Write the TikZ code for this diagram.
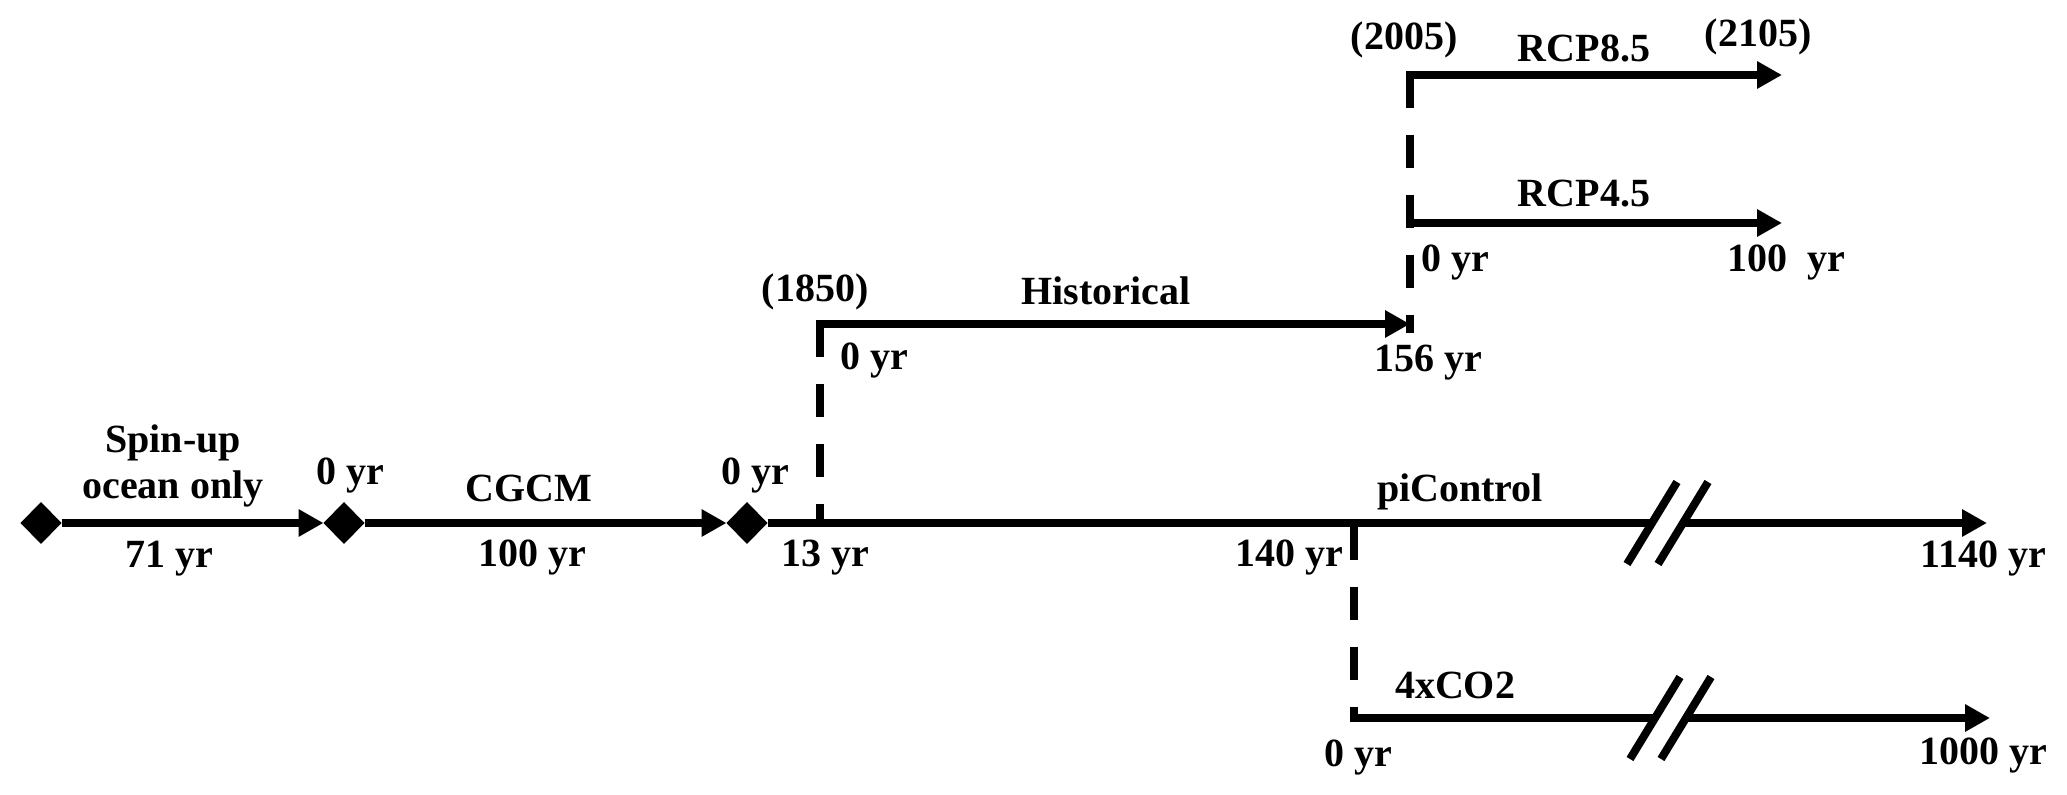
\documentclass[tikz,border=0pt]{standalone}
\usepackage{fontspec}
\setmainfont{Liberation Serif}
\usetikzlibrary{arrows.meta}
\begin{document}
\begin{tikzpicture}[x=0.5pt,y=-0.5pt,
  line width=4pt,
  arr/.style={-{Triangle[length=12.5pt,width=13pt]}},
  dsh/.style={dash pattern=on 16.5pt off 13.5pt},
  lbl/.style={font=\fontsize{20}{21.5}\selectfont\bfseries,inner sep=0pt,anchor=base}
]
\useasboundingbox (0,0) rectangle (2067,795);
% diamonds (centres) and their left/right vertices
\coordinate (d1) at (41,523);
\coordinate (d2) at (344,523);
\coordinate (d3) at (747,523);
\foreach \d in {d1,d2,d3}{
  \fill ([xshift=-10.25pt]\d) -- ([yshift=10.5pt]\d) -- ([xshift=10.25pt]\d) -- ([yshift=-10.5pt]\d) -- cycle;
}
\coordinate (d1e) at (61.5,523);
\coordinate (d2w) at (323.5,523);
\coordinate (d2e) at (364.5,523);
\coordinate (d3w) at (726.5,523);
\coordinate (d3e) at (767.5,523);
% coordinates
\coordinate (h0) at (820,523);
\coordinate (hc) at (820,324);
\coordinate (hend) at (1410,324);
\coordinate (r8) at (1410,75);
\coordinate (r4) at (1410,223);
\coordinate (r0) at (1410,333);
\coordinate (r8end) at (1782,75);
\coordinate (r4end) at (1782,223);
\coordinate (c0) at (1354,527);
\coordinate (cc) at (1354,720);
\coordinate (ch) at (1354,718);
\coordinate (cend) at (1990,718);
\coordinate (pend) at (1987,523);
\coordinate (b1) at (1652,523);
\coordinate (b2) at (1683,523);
\coordinate (b3) at (1655,718);
\coordinate (b4) at (1686,718);
% spin-up and CGCM
\draw[arr] (d1e) -- (d2w);
\draw[arr] (d2e) -- (d3w);
% piControl
\draw (d3e) -- (b1);
\draw[arr] (b2) -- (pend);
\draw ([shift={(25,-41)}]b1) -- ([shift={(-25,41)}]b1);
\draw ([shift={(25,-41)}]b2) -- ([shift={(-25,41)}]b2);
% historical
\draw[dsh] (hc) -- (h0);
\draw[arr] ([xshift=-2pt]hc) -- (hend);
% RCP
\draw[dsh] (r8) -- (r0);
\draw[arr] ([xshift=-2pt]r8) -- (r8end);
\draw[arr] ([xshift=-2pt]r4) -- (r4end);
% 4xCO2
\draw[dsh] (c0) -- (cc);
\draw ([xshift=-2pt]ch) -- (b3);
\draw[arr] (b4) -- (cend);
\draw ([shift={(25,-41)}]b3) -- ([shift={(-25,41)}]b3);
\draw ([shift={(25,-41)}]b4) -- ([shift={(-25,41)}]b4);
% labels
\node[lbl] (lspin) at (173,453) {Spin-up};
\node[lbl] (locean) at (173,499) {ocean only};
\node[lbl] (l71) at (169,568) {71 yr};
\node[lbl] (l0a) at (350,485) {0 yr};
\node[lbl] (lcgcm) at (529,502) {CGCM};
\node[lbl] (l100) at (532,567) {100 yr};
\node[lbl] (l0b) at (755,485) {0 yr};
\node[lbl] (l13) at (825,567) {13 yr};
\node[lbl] (l1850) at (815,302) {(1850)};
\node[lbl] (lhist) at (1106,305) {Historical};
\node[lbl] (l0c) at (874,370) {0 yr};
\node[lbl] (l156) at (1428,372) {156 yr};
\node[lbl] (lpi) at (1460,502) {piControl};
\node[lbl] (l140) at (1289,567) {140 yr};
\node[lbl] (l1140) at (1983,568) {1140 yr};
\node[lbl] (lco2) at (1455,699) {4xCO2};
\node[lbl] (l0d) at (1358,767) {0 yr};
\node[lbl] (l1000) at (1983,765) {1000 yr};
\node[lbl] (l2005) at (1404,50) {(2005)};
\node[lbl] (lr85) at (1584,62) {RCP8.5};
\node[lbl] (l2105) at (1758,47) {(2105)};
\node[lbl] (lr45) at (1584,207) {RCP4.5};
\node[lbl] (l0e) at (1455,272) {0 yr};
\node[lbl] (l100b) at (1786,272) {100~ yr};
\end{tikzpicture}
\end{document}
